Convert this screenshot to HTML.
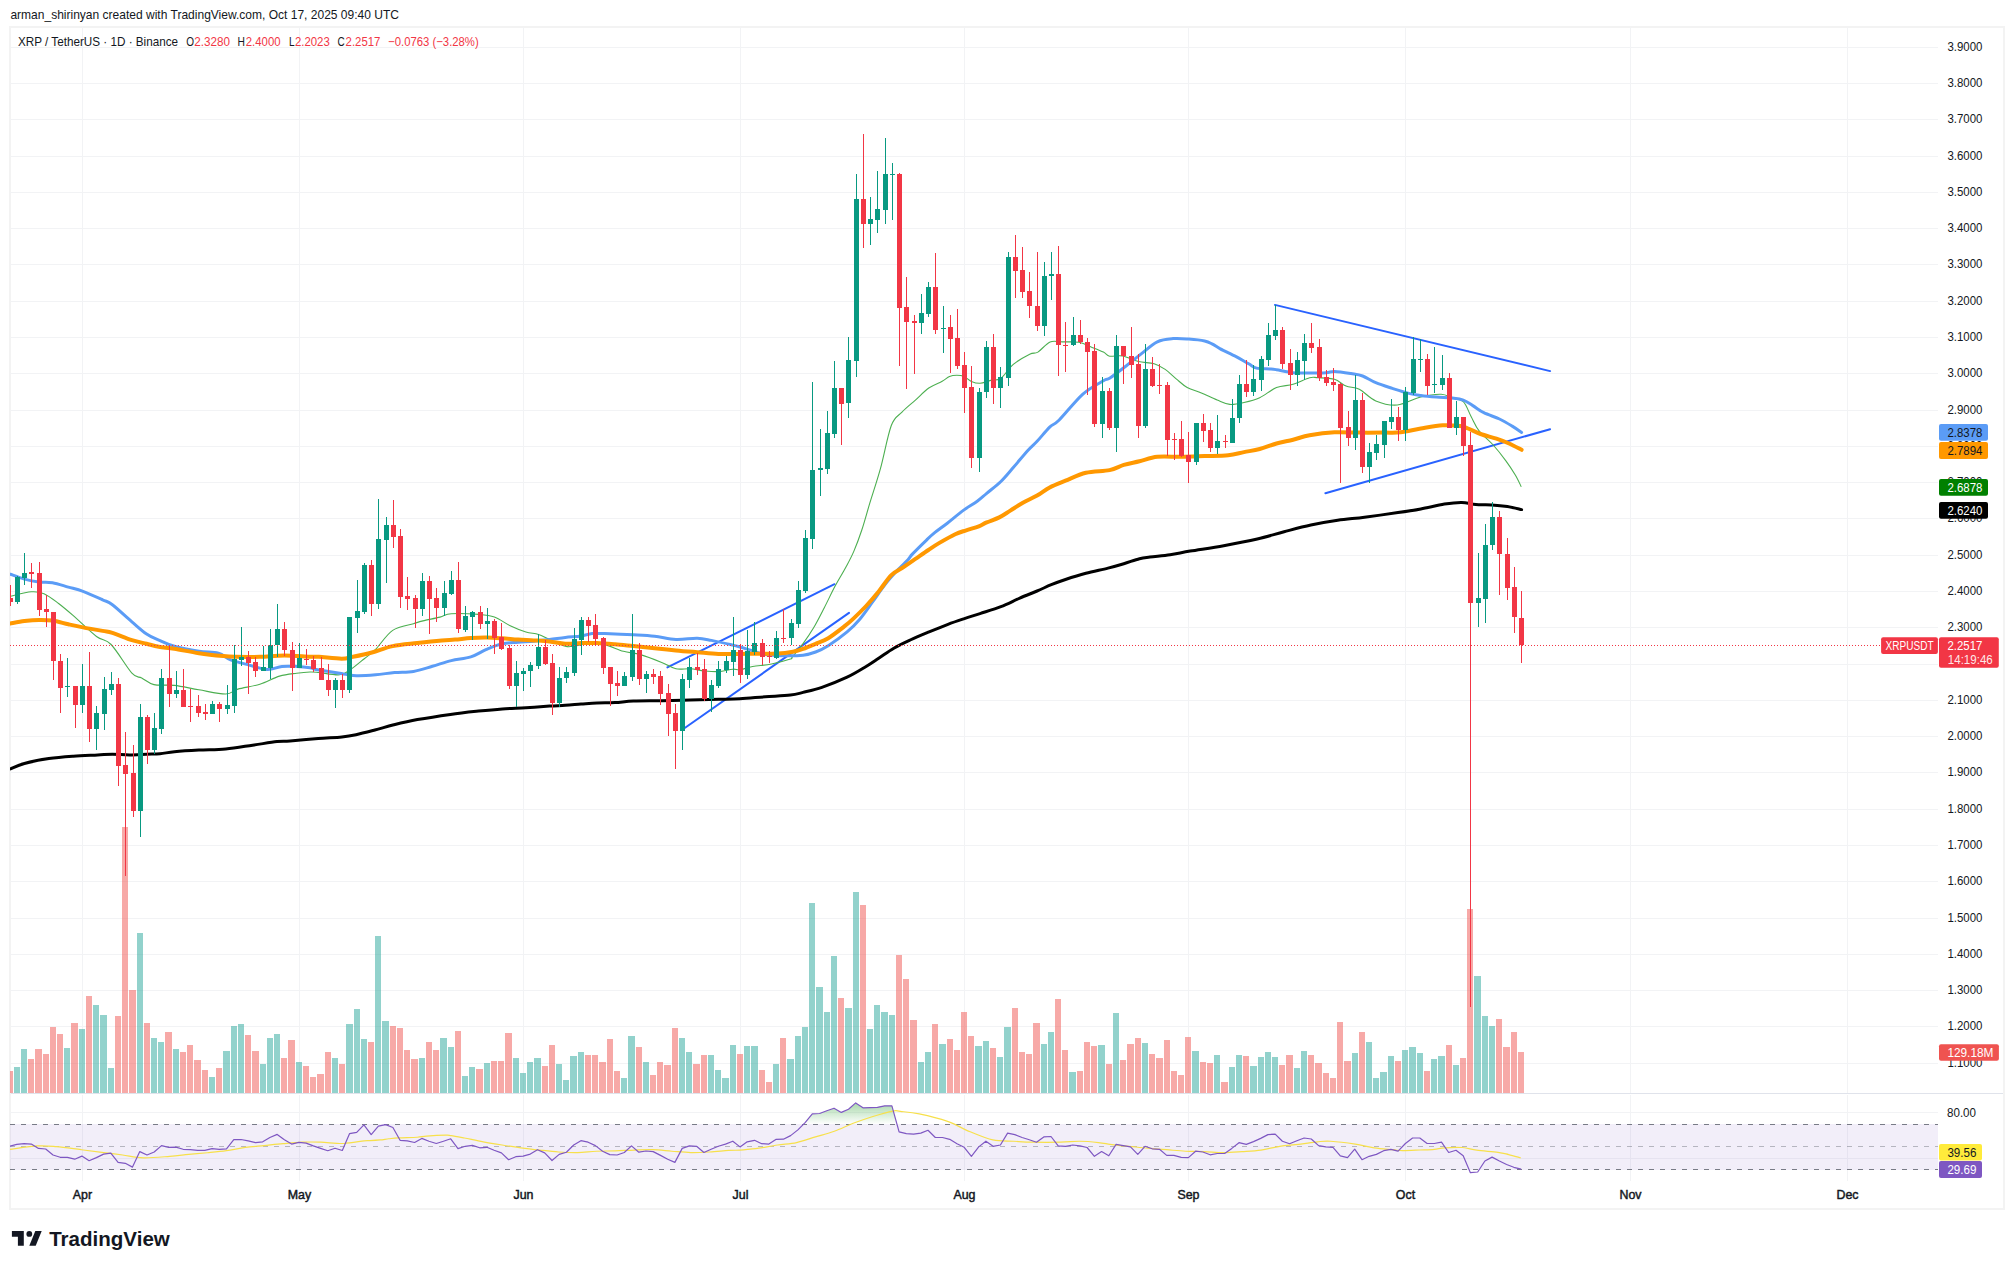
<!DOCTYPE html><html><head><meta charset="utf-8"><title>XRP / TetherUS chart</title><style>html,body{margin:0;padding:0;background:#fff;overflow:hidden;}svg{display:block;}text{font-family:"Liberation Sans", Arial, sans-serif;}</style></head><body>
<svg width="2014" height="1269" viewBox="0 0 2014 1269">
<rect x="0" y="0" width="2014" height="1269" fill="#ffffff"/>
<text x="10.4" y="18.6" font-size="12.4" fill="#131722" textLength="388.6" lengthAdjust="spacingAndGlyphs">arman_shirinyan created with TradingView.com, Oct 17, 2025 09:40 UTC</text>
<rect x="10" y="27" width="1994" height="1182" fill="none" stroke="#F3F3F3" stroke-width="2"/>
<defs><clipPath id="cp"><rect x="10" y="28" width="1928" height="1065"/></clipPath><clipPath id="cr"><rect x="10" y="1094" width="1928" height="87"/></clipPath></defs>
<path d="M10 47.5H1938M10 83.5H1938M10 119.5H1938M10 156.5H1938M10 192.5H1938M10 228.5H1938M10 264.5H1938M10 301.5H1938M10 337.5H1938M10 373.5H1938M10 410.5H1938M10 446.5H1938M10 482.5H1938M10 518.5H1938M10 555.5H1938M10 591.5H1938M10 627.5H1938M10 664.5H1938M10 700.5H1938M10 736.5H1938M10 772.5H1938M10 809.5H1938M10 845.5H1938M10 881.5H1938M10 918.5H1938M10 954.5H1938M10 990.5H1938M10 1026.5H1938M10 1063.5H1938M10 1112.5H1938M10 1158.5H1938M82.5 27V1093M82.5 1095V1181M299.5 27V1093M299.5 1095V1181M523.5 27V1093M523.5 1095V1181M740.5 27V1093M740.5 1095V1181M964.5 27V1093M964.5 1095V1181M1188.5 27V1093M1188.5 1095V1181M1405.5 27V1093M1405.5 1095V1181M1630.5 27V1093M1630.5 1095V1181M1847.5 27V1093M1847.5 1095V1181" stroke="#F2F3F5" stroke-width="1" fill="none"/>
<rect x="11" y="1093" width="1992" height="1" fill="#E0E3EB"/>
<g clip-path="url(#cp)">
<path d="M14 1067H20V1093H14ZM21 1049H27V1093H21ZM64 1048H70V1093H64ZM79 1029H85V1093H79ZM93 1005H99V1093H93ZM100 1015H107V1093H100ZM108 1068H114V1093H108ZM137 933H143V1093H137ZM151 1038H157V1093H151ZM158 1042H164V1093H158ZM173 1049H179V1093H173ZM209 1077H215V1093H209ZM223 1051H230V1093H223ZM231 1026H237V1093H231ZM238 1024H244V1093H238ZM260 1064H266V1093H260ZM267 1038H273V1093H267ZM274 1034H280V1093H274ZM296 1062H302V1093H296ZM332 1058H338V1093H332ZM346 1024H353V1093H346ZM354 1009H360V1093H354ZM361 1039H367V1093H361ZM375 936H381V1093H375ZM382 1021H389V1093H382ZM419 1058H425V1093H419ZM440 1038H447V1093H440ZM448 1047H454V1093H448ZM462 1076H468V1093H462ZM469 1067H475V1093H469ZM484 1063H490V1093H484ZM513 1058H519V1093H513ZM520 1073H526V1093H520ZM527 1062H533V1093H527ZM534 1058H541V1093H534ZM556 1064H562V1093H556ZM563 1080H569V1093H563ZM570 1056H577V1093H570ZM578 1052H584V1093H578ZM621 1078H627V1093H621ZM628 1036H635V1093H628ZM643 1062H649V1093H643ZM679 1038H685V1093H679ZM686 1052H692V1093H686ZM708 1055H714V1093H708ZM715 1070H721V1093H715ZM722 1078H729V1093H722ZM730 1045H736V1093H730ZM744 1046H750V1093H744ZM751 1046H758V1093H751ZM773 1064H779V1093H773ZM787 1059H794V1093H787ZM795 1036H801V1093H795ZM802 1027H808V1093H802ZM809 903H815V1093H809ZM816 987H823V1093H816ZM824 1012H830V1093H824ZM831 956H837V1093H831ZM845 1008H852V1093H845ZM853 892H859V1093H853ZM867 1029H873V1093H867ZM874 1005H880V1093H874ZM881 1012H888V1093H881ZM889 1015H895V1093H889ZM918 1062H924V1093H918ZM925 1052H931V1093H925ZM939 1044H946V1093H939ZM975 1046H982V1093H975ZM983 1041H989V1093H983ZM997 1057H1003V1093H997ZM1004 1027H1011V1093H1004ZM1041 1044H1047V1093H1041ZM1048 1032H1054V1093H1048ZM1069 1072H1076V1093H1069ZM1098 1045H1105V1093H1098ZM1113 1013H1119V1093H1113ZM1142 1043H1148V1093H1142ZM1192 1051H1199V1093H1192ZM1214 1055H1220V1093H1214ZM1229 1067H1235V1093H1229ZM1236 1055H1242V1093H1236ZM1250 1066H1257V1093H1250ZM1258 1057H1264V1093H1258ZM1265 1052H1271V1093H1265ZM1272 1057H1278V1093H1272ZM1294 1068H1300V1093H1294ZM1301 1051H1307V1093H1301ZM1352 1053H1358V1093H1352ZM1366 1042H1372V1093H1366ZM1373 1078H1379V1093H1373ZM1380 1072H1387V1093H1380ZM1388 1056H1394V1093H1388ZM1402 1050H1408V1093H1402ZM1409 1047H1416V1093H1409ZM1417 1053H1423V1093H1417ZM1431 1059H1437V1093H1431ZM1438 1056H1445V1093H1438ZM1453 1065H1459V1093H1453ZM1474 976H1481V1093H1474ZM1482 1016H1488V1093H1482ZM1489 1026H1495V1093H1489Z" fill="#26A69A" fill-opacity="0.5"/>
<path d="M6 1071H13V1093H6ZM28 1059H34V1093H28ZM35 1049H42V1093H35ZM43 1054H49V1093H43ZM50 1027H56V1093H50ZM57 1034H63V1093H57ZM71 1023H78V1093H71ZM86 996H92V1093H86ZM115 1016H121V1093H115ZM122 827H128V1093H122ZM129 990H136V1093H129ZM144 1023H150V1093H144ZM165 1032H172V1093H165ZM180 1052H186V1093H180ZM187 1045H193V1093H187ZM194 1060H201V1093H194ZM202 1070H208V1093H202ZM216 1068H222V1093H216ZM245 1035H251V1093H245ZM252 1051H259V1093H252ZM281 1058H287V1093H281ZM288 1040H295V1093H288ZM303 1066H309V1093H303ZM310 1077H316V1093H310ZM317 1074H324V1093H317ZM325 1052H331V1093H325ZM339 1064H345V1093H339ZM368 1042H374V1093H368ZM390 1026H396V1093H390ZM397 1028H403V1093H397ZM404 1050H410V1093H404ZM411 1059H418V1093H411ZM426 1042H432V1093H426ZM433 1050H439V1093H433ZM455 1031H461V1093H455ZM476 1069H483V1093H476ZM491 1061H497V1093H491ZM498 1061H504V1093H498ZM505 1033H512V1093H505ZM542 1066H548V1093H542ZM549 1045H555V1093H549ZM585 1055H591V1093H585ZM592 1055H598V1093H592ZM599 1062H606V1093H599ZM607 1039H613V1093H607ZM614 1071H620V1093H614ZM636 1047H642V1093H636ZM650 1075H656V1093H650ZM657 1062H663V1093H657ZM664 1065H671V1093H664ZM672 1028H678V1093H672ZM693 1064H700V1093H693ZM701 1055H707V1093H701ZM737 1054H743V1093H737ZM759 1070H765V1093H759ZM766 1082H772V1093H766ZM780 1038H786V1093H780ZM838 998H844V1093H838ZM860 905H866V1093H860ZM896 955H902V1093H896ZM903 979H909V1093H903ZM910 1020H917V1093H910ZM932 1024H938V1093H932ZM947 1039H953V1093H947ZM954 1050H960V1093H954ZM961 1012H967V1093H961ZM968 1036H974V1093H968ZM990 1048H996V1093H990ZM1012 1008H1018V1093H1012ZM1019 1052H1025V1093H1019ZM1026 1054H1032V1093H1026ZM1033 1023H1040V1093H1033ZM1055 999H1061V1093H1055ZM1062 1050H1068V1093H1062ZM1077 1071H1083V1093H1077ZM1084 1042H1090V1093H1084ZM1091 1046H1097V1093H1091ZM1106 1064H1112V1093H1106ZM1120 1060H1126V1093H1120ZM1127 1044H1134V1093H1127ZM1135 1038H1141V1093H1135ZM1149 1054H1155V1093H1149ZM1156 1058H1163V1093H1156ZM1164 1040H1170V1093H1164ZM1171 1071H1177V1093H1171ZM1178 1075H1184V1093H1178ZM1185 1037H1191V1093H1185ZM1200 1062H1206V1093H1200ZM1207 1063H1213V1093H1207ZM1221 1082H1228V1093H1221ZM1243 1056H1249V1093H1243ZM1279 1065H1285V1093H1279ZM1286 1055H1293V1093H1286ZM1308 1055H1314V1093H1308ZM1315 1063H1322V1093H1315ZM1323 1073H1329V1093H1323ZM1330 1078H1336V1093H1330ZM1337 1022H1343V1093H1337ZM1344 1061H1351V1093H1344ZM1359 1032H1365V1093H1359ZM1395 1061H1401V1093H1395ZM1424 1071H1430V1093H1424ZM1446 1045H1452V1093H1446ZM1460 1058H1466V1093H1460ZM1467 909H1473V1093H1467ZM1496 1019H1502V1093H1496ZM1503 1047H1510V1093H1503ZM1511 1032H1517V1093H1511ZM1518 1052H1524V1093H1518Z" fill="#EF5350" fill-opacity="0.5"/>
</g>
<g clip-path="url(#cr)">
<rect x="10" y="1124" width="1928" height="46" fill="#7E57C2" fill-opacity="0.1"/>
<path d="M10 1124.5H1938M10 1169.5H1938" stroke="#787B86" stroke-width="1" stroke-dasharray="5 6"/>
<path d="M10 1146.5H1938" stroke="#787B86" stroke-opacity="0.5" stroke-width="1" stroke-dasharray="5 6"/>
<defs><linearGradient id="ob" x1="0" y1="1100" x2="0" y2="1124.3" gradientUnits="userSpaceOnUse"><stop offset="0" stop-color="#4CAF50" stop-opacity="0.55"/><stop offset="1" stop-color="#4CAF50" stop-opacity="0"/></linearGradient></defs>
<path d="M803.5 1124.3 L805.1 1122.7 L812.3 1113.9 L819.6 1113.5 L826.8 1110.7 L834.0 1108.2 L841.3 1112.4 L848.5 1109.2 L855.7 1102.9 L863.0 1107.8 L870.2 1107.6 L877.4 1107.3 L884.7 1105.8 L891.9 1105.8 L897.0 1124.3 Z" fill="url(#ob)"/>
<path d="M10.00 1149.34 C14.62 1148.77 29.97 1146.38 37.74 1145.94 C45.50 1145.50 49.37 1146.07 56.60 1146.70 C63.84 1147.33 73.27 1148.74 81.13 1149.72 C88.99 1150.69 96.86 1151.67 103.77 1152.55 C110.69 1153.43 116.04 1154.12 122.64 1155.00 C129.25 1155.88 135.53 1157.61 143.40 1157.83 C151.26 1158.05 162.26 1156.89 169.81 1156.32 C177.36 1155.75 182.39 1155.03 188.68 1154.43 C194.97 1153.84 201.26 1153.36 207.55 1152.74 C213.84 1152.11 220.13 1151.54 226.42 1150.66 C232.70 1149.78 238.99 1148.30 245.28 1147.45 C251.57 1146.60 257.86 1146.19 264.15 1145.57 C270.44 1144.94 276.73 1144.25 283.02 1143.68 C289.31 1143.11 295.60 1142.42 301.89 1142.17 C308.18 1141.92 313.84 1141.95 320.75 1142.17 C327.67 1142.39 336.16 1143.71 343.40 1143.49 C350.63 1143.27 359.72 1141.32 364.15 1140.85 C368.58 1140.38 367.36 1140.82 370.00 1140.66 C372.64 1140.50 376.86 1140.22 380.00 1139.91 C383.14 1139.59 385.82 1139.12 388.87 1138.77 C391.92 1138.43 393.58 1138.08 398.30 1137.83 C403.02 1137.58 412.45 1137.55 417.17 1137.26 C421.89 1136.98 421.89 1136.48 426.60 1136.13 C431.32 1135.79 441.38 1135.28 445.47 1135.19 C449.56 1135.09 447.99 1135.09 451.13 1135.57 C454.28 1136.04 458.99 1136.98 464.34 1138.02 C469.69 1139.06 476.92 1140.63 483.21 1141.79 C489.50 1142.96 495.79 1143.99 502.08 1145.00 C508.36 1146.01 514.65 1146.98 520.94 1147.83 C527.23 1148.68 533.52 1149.40 539.81 1150.09 C546.10 1150.79 552.39 1151.57 558.68 1151.98 C564.97 1152.39 571.26 1152.67 577.55 1152.55 C583.84 1152.42 590.13 1151.51 596.42 1151.23 C602.70 1150.94 608.99 1151.04 615.28 1150.85 C621.57 1150.66 627.86 1150.28 634.15 1150.09 C640.44 1149.91 646.73 1149.53 653.02 1149.72 C659.31 1149.91 665.60 1150.75 671.89 1151.23 C678.18 1151.70 684.47 1152.42 690.75 1152.55 C697.04 1152.67 703.33 1152.33 709.62 1151.98 C715.91 1151.64 723.43 1150.79 728.49 1150.47 C733.55 1150.16 736.42 1150.31 740.00 1150.09 C743.58 1149.87 746.86 1149.47 750.00 1149.15 C753.14 1148.84 754.25 1148.90 758.87 1148.21 C763.49 1147.52 771.45 1145.94 777.74 1145.00 C784.03 1144.06 790.31 1143.90 796.60 1142.55 C802.89 1141.19 809.18 1138.77 815.47 1136.89 C821.76 1135.00 828.05 1133.49 834.34 1131.23 C840.63 1128.96 846.92 1125.72 853.21 1123.30 C859.50 1120.88 865.47 1118.74 872.08 1116.70 C878.68 1114.65 888.11 1111.92 892.83 1111.04 C897.55 1110.16 895.97 1110.94 900.38 1111.42 C904.78 1111.89 911.38 1112.20 919.25 1113.87 C927.11 1115.53 939.06 1118.43 947.55 1121.42 C956.04 1124.40 962.64 1128.71 970.19 1131.79 C977.74 1134.87 985.60 1138.33 992.83 1139.91 C1000.06 1141.48 1006.98 1140.85 1013.58 1141.23 C1020.19 1141.60 1024.59 1142.01 1032.45 1142.17 C1040.31 1142.33 1052.89 1142.33 1060.75 1142.17 C1068.62 1142.01 1073.33 1141.16 1079.62 1141.23 C1085.91 1141.29 1093.43 1142.01 1098.49 1142.55 C1103.55 1143.08 1106.42 1143.93 1110.00 1144.43 C1113.58 1144.94 1116.86 1145.25 1120.00 1145.57 C1123.14 1145.88 1124.25 1145.88 1128.87 1146.32 C1133.49 1146.76 1141.45 1147.64 1147.74 1148.21 C1154.03 1148.77 1160.31 1149.21 1166.60 1149.72 C1172.89 1150.22 1179.18 1150.91 1185.47 1151.23 C1191.76 1151.54 1198.05 1151.38 1204.34 1151.60 C1210.63 1151.82 1216.92 1152.55 1223.21 1152.55 C1229.50 1152.55 1235.79 1152.01 1242.08 1151.60 C1248.36 1151.19 1254.65 1150.97 1260.94 1150.09 C1267.23 1149.21 1273.52 1147.26 1279.81 1146.32 C1286.10 1145.38 1292.39 1145.19 1298.68 1144.43 C1304.97 1143.68 1312.20 1142.33 1317.55 1141.79 C1322.89 1141.26 1324.47 1140.85 1330.75 1141.23 C1337.04 1141.60 1348.05 1142.96 1355.28 1144.06 C1362.52 1145.16 1367.86 1146.89 1374.15 1147.83 C1380.44 1148.77 1388.30 1149.25 1393.02 1149.72 C1397.74 1150.19 1397.96 1150.61 1402.45 1150.66 C1406.95 1150.71 1414.71 1150.23 1420.00 1150.00 C1425.29 1149.77 1430.07 1149.67 1434.20 1149.30 C1438.33 1148.93 1440.07 1148.10 1444.80 1147.80 C1449.53 1147.50 1457.28 1147.10 1462.60 1147.50 C1467.92 1147.90 1470.80 1149.40 1476.70 1150.20 C1482.60 1151.00 1492.67 1151.57 1498.00 1152.30 C1503.33 1153.03 1504.92 1153.68 1508.70 1154.60 C1512.48 1155.52 1518.70 1157.27 1520.70 1157.80" fill="none" stroke="#F7E04B" stroke-width="1.2"/>
<path d="M9.6 1146.3 L16.8 1144.4 L24.0 1143.7 L31.3 1144.1 L38.5 1148.4 L45.7 1149.0 L53.0 1155.0 L60.2 1157.3 L67.4 1157.3 L74.7 1159.2 L81.9 1156.1 L89.1 1160.7 L96.4 1157.6 L103.6 1154.1 L110.8 1153.1 L118.1 1162.4 L125.3 1163.3 L132.5 1167.1 L139.8 1151.6 L147.0 1155.0 L154.2 1152.0 L161.5 1145.6 L168.7 1147.3 L175.9 1147.1 L183.1 1149.3 L190.4 1149.7 L197.6 1150.3 L204.8 1150.3 L212.1 1148.6 L219.3 1149.3 L226.5 1148.8 L233.8 1139.7 L241.0 1139.5 L248.2 1140.8 L255.5 1142.7 L262.7 1141.8 L269.9 1137.5 L277.2 1134.4 L284.4 1139.7 L291.6 1144.1 L298.9 1142.4 L306.1 1143.1 L313.3 1145.9 L320.6 1148.4 L327.8 1150.7 L335.0 1148.2 L342.3 1150.5 L349.5 1133.7 L356.7 1132.4 L363.9 1124.8 L371.2 1134.6 L378.4 1126.1 L385.6 1124.6 L392.9 1127.5 L400.1 1140.3 L407.3 1140.8 L414.6 1142.5 L421.8 1138.4 L429.0 1141.2 L436.3 1143.5 L443.5 1141.2 L450.7 1138.8 L458.0 1148.6 L465.2 1146.3 L472.4 1145.4 L479.7 1147.8 L486.9 1147.3 L494.1 1150.3 L501.4 1152.9 L508.6 1159.7 L515.8 1156.7 L523.1 1156.1 L530.3 1154.1 L537.5 1149.7 L544.7 1152.9 L552.0 1160.5 L559.2 1154.4 L566.4 1152.2 L573.7 1145.0 L580.9 1140.7 L588.1 1142.2 L595.4 1145.6 L602.6 1151.2 L609.8 1154.6 L617.1 1155.0 L624.3 1152.5 L631.5 1145.9 L638.8 1152.2 L646.0 1151.0 L653.2 1151.6 L660.5 1155.4 L667.7 1159.2 L674.9 1162.4 L682.2 1148.4 L689.4 1145.9 L696.6 1146.3 L703.9 1152.5 L711.1 1149.3 L718.3 1146.3 L725.5 1144.1 L732.8 1141.2 L740.0 1146.9 L747.2 1141.8 L754.5 1140.3 L761.7 1143.7 L768.9 1144.1 L776.2 1139.3 L783.4 1139.2 L790.6 1135.6 L797.9 1129.9 L805.1 1122.7 L812.3 1113.9 L819.6 1113.5 L826.8 1110.7 L834.0 1108.2 L841.3 1112.4 L848.5 1109.2 L855.7 1102.9 L863.0 1107.8 L870.2 1107.6 L877.4 1107.3 L884.7 1105.8 L891.9 1105.8 L899.1 1131.8 L906.3 1133.7 L913.6 1134.1 L920.8 1133.1 L928.0 1130.3 L935.3 1137.5 L942.5 1137.5 L949.7 1139.3 L957.0 1143.7 L964.2 1147.3 L971.4 1156.3 L978.7 1146.9 L985.9 1141.2 L993.1 1146.3 L1000.4 1145.0 L1007.6 1133.1 L1014.8 1134.6 L1022.1 1137.5 L1029.3 1139.7 L1036.5 1142.2 L1043.8 1136.9 L1051.0 1136.5 L1058.2 1145.9 L1065.5 1146.3 L1072.7 1145.0 L1079.9 1145.9 L1087.1 1147.5 L1094.4 1156.3 L1101.6 1151.6 L1108.8 1155.8 L1116.1 1144.4 L1123.3 1145.6 L1130.5 1146.9 L1137.8 1154.4 L1145.0 1146.3 L1152.2 1148.8 L1159.5 1149.3 L1166.7 1155.4 L1173.9 1155.4 L1181.2 1157.3 L1188.4 1157.6 L1195.6 1151.2 L1202.9 1152.0 L1210.1 1154.8 L1217.3 1153.5 L1224.6 1153.5 L1231.8 1148.4 L1239.0 1142.7 L1246.3 1144.4 L1253.5 1141.6 L1260.7 1138.4 L1267.9 1134.6 L1275.2 1134.1 L1282.4 1141.2 L1289.6 1143.7 L1296.9 1140.8 L1304.1 1138.0 L1311.3 1139.0 L1318.6 1145.6 L1325.8 1146.9 L1333.0 1147.3 L1340.3 1155.9 L1347.5 1157.6 L1354.7 1149.2 L1362.0 1159.7 L1369.2 1156.3 L1376.4 1154.4 L1383.7 1150.7 L1390.9 1149.3 L1398.1 1151.2 L1405.4 1143.5 L1412.6 1138.0 L1419.8 1138.0 L1427.1 1143.5 L1434.3 1143.5 L1441.5 1142.2 L1448.7 1152.5 L1456.0 1150.3 L1463.2 1155.8 L1470.4 1172.7 L1477.7 1172.0 L1484.9 1161.0 L1492.1 1157.1 L1499.4 1161.0 L1506.6 1164.5 L1513.8 1167.3 L1521.1 1169.1" fill="none" stroke="#7E57C2" stroke-width="1.2" stroke-linejoin="round"/>
</g>
<g clip-path="url(#cp)">
<line x1="667.4" y1="667.4" x2="834.5" y2="584.2" stroke="#2962FF" stroke-width="2" stroke-linecap="round"/>
<line x1="685.1" y1="727.7" x2="849.0" y2="612.9" stroke="#2962FF" stroke-width="2" stroke-linecap="round"/>
<line x1="1274.9" y1="304.9" x2="1550.1" y2="371.1" stroke="#2962FF" stroke-width="2" stroke-linecap="round"/>
<line x1="1325.4" y1="493.2" x2="1550.1" y2="429.2" stroke="#2962FF" stroke-width="2" stroke-linecap="round"/>
<path d="M10.30 768.90 C12.65 768.00 17.97 765.22 24.40 763.50 C30.83 761.78 40.75 759.82 48.90 758.60 C57.05 757.38 65.17 756.80 73.30 756.20 C81.43 755.60 91.18 755.33 97.70 755.00 C104.22 754.67 107.10 754.20 112.40 754.20 C117.70 754.20 123.80 755.00 129.50 755.00 C135.20 755.00 141.52 754.42 146.60 754.20 C151.68 753.98 155.37 754.10 160.00 753.70 C164.63 753.30 167.92 752.40 174.40 751.80 C180.88 751.20 190.35 750.58 198.90 750.10 C207.45 749.62 216.75 749.72 225.70 748.90 C234.65 748.08 244.05 746.42 252.60 745.20 C261.15 743.98 270.77 742.30 277.00 741.60 C283.23 740.90 283.12 741.52 290.00 741.00 C296.88 740.48 309.65 739.18 318.30 738.50 C326.95 737.82 335.62 737.53 341.90 736.90 C348.18 736.27 350.50 735.85 356.00 734.70 C361.50 733.55 368.60 731.65 374.90 730.00 C381.20 728.35 386.72 726.53 393.80 724.80 C400.88 723.07 407.97 721.33 417.40 719.60 C426.83 717.87 440.20 715.82 450.40 714.40 C460.60 712.98 469.95 712.02 478.60 711.10 C487.25 710.18 494.42 709.47 502.30 708.90 C510.18 708.33 518.02 708.17 525.90 707.70 C533.78 707.23 543.03 706.50 549.60 706.10 C556.17 705.70 560.05 705.63 565.30 705.30 C570.55 704.97 575.83 704.48 581.10 704.10 C586.37 703.72 591.25 703.25 596.90 703.00 C602.55 702.75 608.92 702.93 615.00 702.60 C621.08 702.27 625.62 701.32 633.40 701.00 C641.18 700.68 652.25 700.87 661.70 700.70 C671.15 700.53 680.63 700.23 690.10 700.00 C699.57 699.77 710.18 699.52 718.50 699.30 C726.82 699.08 732.22 699.12 740.00 698.70 C747.78 698.28 756.80 697.40 765.20 696.80 C773.60 696.20 784.10 695.83 790.40 695.10 C796.70 694.37 797.75 693.70 803.00 692.40 C808.25 691.10 814.55 689.83 821.90 687.30 C829.25 684.77 839.73 680.67 847.10 677.20 C854.47 673.73 860.83 669.65 866.10 666.50 C871.37 663.35 874.08 661.35 878.70 658.30 C883.32 655.25 888.55 651.25 893.80 648.20 C899.05 645.15 904.32 642.72 910.20 640.00 C916.08 637.28 922.80 634.52 929.10 631.90 C935.40 629.28 942.12 626.52 948.00 624.30 C953.88 622.08 959.07 620.38 964.40 618.60 C969.73 616.82 973.92 615.58 980.00 613.60 C986.08 611.62 994.27 609.28 1000.90 606.70 C1007.53 604.12 1013.77 600.72 1019.80 598.10 C1025.83 595.48 1031.85 593.23 1037.10 591.00 C1042.35 588.77 1046.57 586.62 1051.30 584.70 C1056.03 582.78 1059.73 581.40 1065.50 579.50 C1071.27 577.60 1078.82 575.20 1085.90 573.30 C1092.98 571.40 1101.68 569.70 1108.00 568.10 C1114.32 566.50 1118.55 565.27 1123.80 563.70 C1129.05 562.13 1135.13 559.82 1139.50 558.70 C1143.87 557.58 1144.90 557.67 1150.00 557.00 C1155.10 556.33 1163.40 555.68 1170.10 554.70 C1176.80 553.72 1181.27 552.60 1190.20 551.10 C1199.13 549.60 1212.52 547.72 1223.70 545.70 C1234.88 543.68 1247.23 541.33 1257.30 539.00 C1267.37 536.67 1275.17 534.03 1284.10 531.70 C1293.03 529.37 1301.97 526.90 1310.90 525.00 C1319.83 523.10 1328.77 521.60 1337.70 520.30 C1346.63 519.00 1354.45 518.48 1364.50 517.20 C1374.55 515.92 1388.62 513.98 1398.00 512.60 C1407.38 511.22 1413.07 510.32 1420.80 508.90 C1428.53 507.48 1437.58 505.17 1444.40 504.10 C1451.22 503.03 1456.45 502.42 1461.70 502.50 C1466.95 502.58 1470.90 504.20 1475.90 504.60 C1480.90 505.00 1486.45 504.58 1491.70 504.90 C1496.95 505.22 1502.42 505.72 1507.40 506.50 C1512.38 507.28 1519.23 509.08 1521.60 509.60" fill="none" stroke="#000000" stroke-width="3" stroke-linejoin="round" stroke-linecap="round"/>
<path d="M10.30 596.20 C13.80 595.47 25.68 592.22 31.30 591.80 C36.92 591.38 39.45 591.75 44.00 593.70 C48.55 595.65 53.72 599.83 58.60 603.50 C63.48 607.17 66.98 610.20 73.30 615.70 C79.62 621.20 90.20 631.70 96.50 636.50 C102.80 641.30 105.20 638.40 111.10 644.50 C117.00 650.60 126.80 667.52 131.90 673.10 C137.00 678.68 138.03 676.08 141.70 678.00 C145.37 679.92 148.45 683.37 153.90 684.60 C159.35 685.83 166.90 684.53 174.40 685.40 C181.90 686.27 190.35 688.37 198.90 689.80 C207.45 691.23 219.20 694.12 225.70 694.00 C232.20 693.88 232.20 690.73 237.90 689.10 C243.60 687.47 252.97 686.37 259.90 684.20 C266.83 682.03 273.38 677.93 279.50 676.10 C285.62 674.27 291.52 673.88 296.60 673.20 C301.68 672.52 306.28 672.12 310.00 672.00 C313.72 671.88 313.95 672.03 318.90 672.50 C323.85 672.97 334.33 675.37 339.70 674.80 C345.07 674.23 347.00 671.78 351.10 669.10 C355.20 666.42 360.22 662.00 364.30 658.70 C368.38 655.40 370.87 654.02 375.60 649.30 C380.33 644.58 386.38 634.67 392.70 630.40 C399.02 626.13 408.47 625.28 413.50 623.70 C418.53 622.12 418.48 622.00 422.90 620.90 C427.32 619.80 435.27 618.30 440.00 617.10 C444.73 615.90 444.87 614.15 451.30 613.70 C457.73 613.25 471.42 613.85 478.60 614.40 C485.78 614.95 489.13 615.12 494.40 617.00 C499.67 618.88 504.95 623.20 510.20 625.70 C515.45 628.20 521.18 630.55 525.90 632.00 C530.62 633.45 534.55 633.13 538.50 634.40 C542.45 635.67 545.13 637.63 549.60 639.60 C554.07 641.57 561.37 645.10 565.30 646.20 C569.23 647.30 569.25 646.60 573.20 646.20 C577.15 645.80 583.75 644.07 589.00 643.80 C594.25 643.53 598.97 643.35 604.70 644.60 C610.43 645.85 617.43 649.63 623.40 651.30 C629.37 652.97 634.12 652.75 640.50 654.60 C646.88 656.45 655.80 660.03 661.70 662.40 C667.60 664.77 671.17 667.73 675.90 668.80 C680.63 669.87 685.37 668.45 690.10 668.80 C694.83 669.15 699.57 670.43 704.30 670.90 C709.03 671.37 713.77 671.88 718.50 671.60 C723.23 671.32 729.12 669.52 732.70 669.20 C736.28 668.88 736.68 670.15 740.00 669.70 C743.32 669.25 747.35 667.45 752.60 666.50 C757.85 665.55 765.20 665.25 771.50 664.00 C777.80 662.75 786.97 660.12 790.40 659.00 C793.83 657.88 790.02 659.82 792.10 657.30 C794.18 654.78 799.32 648.82 802.90 643.90 C806.48 638.98 810.03 633.83 813.60 627.80 C817.17 621.77 820.73 614.62 824.30 607.70 C827.87 600.78 831.43 593.00 835.00 586.30 C838.57 579.60 842.57 573.32 845.70 567.50 C848.83 561.68 851.12 557.65 853.80 551.40 C856.48 545.15 859.13 538.03 861.80 530.00 C864.47 521.97 866.68 513.47 869.80 503.20 C872.92 492.93 876.92 481.35 880.50 468.40 C884.08 455.45 887.72 434.88 891.30 425.50 C894.88 416.12 897.98 416.33 902.00 412.10 C906.02 407.87 910.93 404.12 915.40 400.10 C919.87 396.08 924.33 391.13 928.80 388.00 C933.27 384.87 938.75 383.22 942.20 381.30 C945.65 379.38 947.07 377.50 949.50 376.50 C951.93 375.50 954.37 375.30 956.80 375.30 C959.23 375.30 961.67 375.48 964.10 376.50 C966.53 377.52 968.75 380.27 971.40 381.40 C974.05 382.53 976.78 383.47 980.00 383.30 C983.22 383.13 987.20 381.25 990.70 380.40 C994.20 379.55 997.23 380.87 1001.00 378.20 C1004.77 375.53 1008.52 368.40 1013.30 364.40 C1018.08 360.40 1025.60 356.25 1029.70 354.20 C1033.80 352.15 1034.50 354.15 1037.90 352.10 C1041.30 350.05 1046.02 343.60 1050.10 341.90 C1054.18 340.20 1057.62 341.83 1062.40 341.90 C1067.18 341.97 1074.02 341.45 1078.80 342.30 C1083.58 343.15 1087.00 345.37 1091.10 347.00 C1095.20 348.63 1100.32 350.57 1103.40 352.10 C1106.48 353.63 1106.40 355.55 1109.60 356.20 C1112.80 356.85 1117.80 355.12 1122.60 356.00 C1127.40 356.88 1133.15 360.20 1138.40 361.50 C1143.65 362.80 1149.63 362.48 1154.10 363.80 C1158.57 365.12 1161.52 366.90 1165.20 369.40 C1168.88 371.90 1172.53 375.78 1176.20 378.80 C1179.87 381.82 1183.00 385.13 1187.20 387.50 C1191.40 389.87 1196.40 390.90 1201.40 393.00 C1206.40 395.10 1212.47 398.20 1217.20 400.10 C1221.93 402.00 1225.33 404.00 1229.80 404.40 C1234.27 404.80 1239.02 403.62 1244.00 402.50 C1248.98 401.38 1254.28 400.18 1259.70 397.70 C1265.12 395.22 1270.93 389.83 1276.50 387.60 C1282.07 385.37 1287.58 385.95 1293.10 384.30 C1298.62 382.65 1305.47 378.80 1309.60 377.70 C1313.73 376.60 1313.75 377.43 1317.90 377.70 C1322.05 377.97 1329.82 377.92 1334.50 379.30 C1339.18 380.68 1341.87 384.33 1346.00 386.00 C1350.13 387.67 1354.33 386.82 1359.30 389.30 C1364.27 391.78 1369.47 398.28 1375.80 400.90 C1382.13 403.52 1389.80 405.65 1397.30 405.00 C1404.80 404.35 1413.48 398.78 1420.80 397.00 C1428.12 395.22 1435.95 394.12 1441.20 394.30 C1446.45 394.48 1448.62 396.87 1452.30 398.10 C1455.98 399.33 1460.15 398.60 1463.30 401.70 C1466.45 404.80 1468.57 411.83 1471.20 416.70 C1473.83 421.57 1475.43 426.18 1479.10 430.90 C1482.77 435.62 1488.73 440.02 1493.20 445.00 C1497.67 449.98 1502.22 455.80 1505.90 460.80 C1509.58 465.80 1512.73 470.67 1515.30 475.00 C1517.87 479.33 1520.30 484.83 1521.30 486.80" fill="none" stroke="#4CAF50" stroke-width="1.1" stroke-linejoin="round"/>
<path d="M10.30 574.20 C12.65 575.02 19.60 577.80 24.40 579.10 C29.20 580.40 34.42 581.40 39.10 582.00 C43.78 582.60 47.62 581.85 52.50 582.70 C57.38 583.55 63.32 585.67 68.40 587.10 C73.48 588.53 77.30 589.18 83.00 591.30 C88.70 593.42 97.70 597.57 102.60 599.80 C107.50 602.03 107.52 601.03 112.40 604.70 C117.28 608.37 126.20 616.92 131.90 621.80 C137.60 626.68 142.12 630.95 146.60 634.00 C151.08 637.05 154.17 638.05 158.80 640.10 C163.43 642.15 167.72 644.45 174.40 646.30 C181.08 648.15 191.57 650.05 198.90 651.20 C206.23 652.35 213.12 651.77 218.40 653.20 C223.68 654.63 225.72 657.90 230.60 659.80 C235.48 661.70 241.60 662.98 247.70 664.60 C253.80 666.22 261.50 669.20 267.20 669.50 C272.90 669.80 277.00 666.92 281.90 666.40 C286.80 665.88 291.92 666.17 296.60 666.40 C301.28 666.63 306.28 667.18 310.00 667.80 C313.72 668.42 313.32 669.08 318.90 670.10 C324.48 671.12 337.20 672.97 343.50 673.90 C349.80 674.83 351.35 675.55 356.70 675.70 C362.05 675.85 369.28 675.33 375.60 674.80 C381.92 674.27 388.28 673.07 394.60 672.50 C400.92 671.93 407.20 672.43 413.50 671.40 C419.80 670.37 426.10 668.10 432.40 666.30 C438.70 664.50 444.90 662.17 451.30 660.60 C457.70 659.03 464.93 658.77 470.80 656.90 C476.67 655.03 481.25 651.58 486.50 649.40 C491.75 647.22 497.03 644.98 502.30 643.80 C507.57 642.62 512.85 642.73 518.10 642.30 C523.35 641.87 528.55 641.65 533.80 641.20 C539.05 640.75 544.35 640.22 549.60 639.60 C554.85 638.98 560.05 638.10 565.30 637.50 C570.55 636.90 576.63 636.65 581.10 636.00 C585.57 635.35 588.17 634.00 592.10 633.60 C596.03 633.20 597.82 633.40 604.70 633.60 C611.58 633.80 625.08 634.37 633.40 634.80 C641.72 635.23 647.52 635.43 654.60 636.20 C661.68 636.97 668.80 639.05 675.90 639.40 C683.00 639.75 691.28 638.13 697.20 638.30 C703.12 638.47 705.48 639.27 711.40 640.40 C717.32 641.53 727.93 644.00 732.70 645.10 C737.47 646.20 736.68 646.05 740.00 647.00 C743.32 647.95 748.40 649.55 752.60 650.80 C756.80 652.05 759.95 653.67 765.20 654.50 C770.45 655.33 777.80 655.68 784.10 655.80 C790.40 655.92 797.75 655.83 803.00 655.20 C808.25 654.57 811.40 653.58 815.60 652.00 C819.80 650.42 822.95 649.05 828.20 645.70 C833.45 642.35 841.83 636.32 847.10 631.90 C852.37 627.48 855.58 624.15 859.80 619.20 C864.02 614.25 868.20 607.97 872.40 602.20 C876.60 596.43 880.80 589.95 885.00 584.60 C889.20 579.25 893.82 574.20 897.60 570.10 C901.38 566.00 905.20 562.70 907.70 560.00 C910.20 557.30 909.42 557.27 912.60 553.90 C915.78 550.53 923.12 543.33 926.80 539.80 C930.48 536.27 931.28 535.47 934.70 532.70 C938.12 529.93 942.58 526.88 947.30 523.20 C952.02 519.52 958.02 514.27 963.00 510.60 C967.98 506.93 973.25 504.08 977.20 501.20 C981.15 498.32 982.75 496.58 986.70 493.30 C990.65 490.02 996.43 485.83 1000.90 481.50 C1005.37 477.17 1009.05 472.43 1013.50 467.30 C1017.95 462.17 1023.67 455.03 1027.60 450.70 C1031.53 446.37 1033.42 445.23 1037.10 441.30 C1040.78 437.37 1046.02 430.65 1049.70 427.10 C1053.38 423.55 1053.67 425.50 1059.20 420.00 C1064.73 414.50 1075.53 400.63 1082.90 394.10 C1090.27 387.57 1098.88 383.48 1103.40 380.80 C1107.92 378.12 1106.27 380.43 1110.00 378.00 C1113.73 375.57 1120.55 370.27 1125.80 366.20 C1131.05 362.13 1136.25 357.67 1141.50 353.60 C1146.75 349.53 1152.03 344.30 1157.30 341.80 C1162.57 339.30 1167.85 339.05 1173.10 338.60 C1178.35 338.15 1183.55 338.70 1188.80 339.10 C1194.05 339.50 1200.65 340.17 1204.60 341.00 C1208.55 341.83 1209.88 342.78 1212.50 344.10 C1215.12 345.42 1216.37 346.80 1220.30 348.90 C1224.23 351.00 1231.37 354.22 1236.10 356.70 C1240.83 359.18 1245.28 361.90 1248.70 363.80 C1252.12 365.70 1253.05 367.25 1256.60 368.10 C1260.15 368.95 1266.68 368.63 1270.00 368.90 C1273.32 369.17 1272.65 369.07 1276.50 369.70 C1280.35 370.33 1287.58 372.13 1293.10 372.70 C1298.62 373.27 1304.08 373.10 1309.60 373.10 C1315.12 373.10 1322.05 372.98 1326.20 372.70 C1330.35 372.42 1330.37 371.25 1334.50 371.40 C1338.63 371.55 1346.32 372.83 1351.00 373.60 C1355.68 374.37 1358.47 374.48 1362.60 376.00 C1366.73 377.52 1370.83 380.63 1375.80 382.70 C1380.77 384.77 1386.88 386.62 1392.40 388.40 C1397.92 390.18 1404.17 392.23 1408.90 393.40 C1413.63 394.57 1416.20 394.80 1420.80 395.40 C1425.40 396.00 1431.25 396.55 1436.50 397.00 C1441.75 397.45 1447.83 397.58 1452.30 398.10 C1456.77 398.62 1459.88 398.85 1463.30 400.10 C1466.72 401.35 1469.38 403.50 1472.80 405.60 C1476.22 407.70 1479.35 410.47 1483.80 412.70 C1488.25 414.93 1494.77 416.77 1499.50 419.00 C1504.23 421.23 1508.52 423.87 1512.20 426.10 C1515.88 428.33 1520.03 431.35 1521.60 432.40" fill="none" stroke="#5B9CF6" stroke-width="3" stroke-linejoin="round" stroke-linecap="round"/>
<path d="M10.30 623.50 C12.65 623.10 19.60 621.70 24.40 621.10 C29.20 620.50 34.42 619.98 39.10 619.90 C43.78 619.82 47.62 619.87 52.50 620.60 C57.38 621.33 63.32 623.17 68.40 624.30 C73.48 625.43 77.30 626.30 83.00 627.40 C88.70 628.50 97.70 630.00 102.60 630.90 C107.50 631.80 107.52 631.27 112.40 632.80 C117.28 634.33 126.20 638.27 131.90 640.10 C137.60 641.93 142.12 642.70 146.60 643.80 C151.08 644.90 154.17 645.87 158.80 646.70 C163.43 647.53 167.72 647.72 174.40 648.80 C181.08 649.88 190.75 651.98 198.90 653.20 C207.05 654.42 217.20 655.50 223.30 656.10 C229.40 656.70 229.40 656.68 235.50 656.80 C241.60 656.92 251.77 657.00 259.90 656.80 C268.03 656.60 275.95 655.60 284.30 655.60 C292.65 655.60 304.23 656.60 310.00 656.80 C315.77 657.00 313.63 656.48 318.90 656.80 C324.17 657.12 335.92 658.70 341.60 658.70 C347.28 658.70 347.95 657.83 353.00 656.80 C358.05 655.77 365.28 654.28 371.90 652.50 C378.52 650.72 385.13 647.68 392.70 646.10 C400.27 644.52 409.12 643.95 417.30 643.00 C425.48 642.05 435.52 640.97 441.80 640.40 C448.08 639.83 450.17 640.00 455.00 639.60 C459.83 639.20 465.55 638.35 470.80 638.00 C476.05 637.65 481.25 637.45 486.50 637.50 C491.75 637.55 497.03 637.95 502.30 638.30 C507.57 638.65 512.85 639.25 518.10 639.60 C523.35 639.95 528.55 640.08 533.80 640.40 C539.05 640.72 544.35 640.93 549.60 641.50 C554.85 642.07 560.05 643.55 565.30 643.80 C570.55 644.05 575.83 643.13 581.10 643.00 C586.37 642.87 591.25 642.78 596.90 643.00 C602.55 643.22 608.92 643.78 615.00 644.30 C621.08 644.82 626.80 645.45 633.40 646.10 C640.00 646.75 647.52 647.48 654.60 648.20 C661.68 648.92 668.80 649.73 675.90 650.40 C683.00 651.07 690.10 651.62 697.20 652.20 C704.30 652.78 711.37 653.62 718.50 653.90 C725.63 654.18 730.12 653.97 740.00 653.90 C749.88 653.83 768.98 653.85 777.80 653.50 C786.62 653.15 788.70 652.57 792.90 651.80 C797.10 651.03 799.22 650.23 803.00 648.90 C806.78 647.57 811.40 645.58 815.60 643.80 C819.80 642.02 823.37 641.13 828.20 638.20 C833.03 635.27 840.40 629.47 844.60 626.20 C848.80 622.93 849.82 621.97 853.40 618.60 C856.98 615.23 861.88 610.52 866.10 606.00 C870.32 601.48 874.50 596.65 878.70 591.50 C882.90 586.35 887.10 579.20 891.30 575.10 C895.50 571.00 899.82 569.63 903.90 566.90 C907.98 564.17 911.72 561.52 915.80 558.70 C919.88 555.88 924.47 552.63 928.40 550.00 C932.33 547.37 934.93 545.53 939.40 542.90 C943.87 540.27 950.73 536.30 955.20 534.20 C959.67 532.10 962.27 531.60 966.20 530.30 C970.13 529.00 975.38 527.72 978.80 526.40 C982.22 525.08 983.28 523.90 986.70 522.40 C990.12 520.90 995.37 519.37 999.30 517.40 C1003.23 515.43 1006.37 513.05 1010.30 510.60 C1014.23 508.15 1018.43 505.20 1022.90 502.70 C1027.37 500.20 1032.63 498.15 1037.10 495.60 C1041.57 493.05 1044.97 489.88 1049.70 487.40 C1054.43 484.92 1059.47 483.13 1065.50 480.70 C1071.53 478.27 1078.55 474.57 1085.90 472.80 C1093.25 471.03 1103.28 471.42 1109.60 470.10 C1115.92 468.78 1118.82 466.37 1123.80 464.90 C1128.78 463.43 1133.92 462.65 1139.50 461.30 C1145.08 459.95 1150.40 457.55 1157.30 456.80 C1164.20 456.05 1173.02 456.92 1180.90 456.80 C1188.78 456.68 1196.72 456.35 1204.60 456.10 C1212.48 455.85 1221.63 455.97 1228.20 455.30 C1234.77 454.63 1238.75 453.15 1244.00 452.10 C1249.25 451.05 1254.28 450.43 1259.70 449.00 C1265.12 447.57 1270.93 445.05 1276.50 443.50 C1282.07 441.95 1287.58 441.07 1293.10 439.70 C1298.62 438.33 1302.70 436.53 1309.60 435.30 C1316.50 434.07 1326.22 432.75 1334.50 432.30 C1342.78 431.85 1351.03 432.55 1359.30 432.60 C1367.57 432.65 1377.22 432.65 1384.10 432.60 C1390.98 432.55 1394.48 432.98 1400.60 432.30 C1406.72 431.62 1413.77 429.67 1420.80 428.50 C1427.83 427.33 1436.23 425.70 1442.80 425.30 C1449.37 424.90 1456.00 425.57 1460.20 426.10 C1464.40 426.63 1464.60 427.18 1468.00 428.50 C1471.40 429.82 1475.87 432.30 1480.60 434.00 C1485.33 435.70 1491.67 437.12 1496.40 438.70 C1501.13 440.28 1504.80 441.65 1509.00 443.50 C1513.20 445.35 1519.50 448.75 1521.60 449.80" fill="none" stroke="#FF9800" stroke-width="4" stroke-linejoin="round" stroke-linecap="round"/>
<path d="M17 576H18V604H17ZM15 577H20V602H15ZM24 553H25V585H24ZM22 573H27V578H22ZM67 658H68V697H67ZM65 686H70V687H65ZM82 664H83V713H82ZM80 686H85V705H80ZM96 706H97V750H96ZM94 713H99V729H94ZM104 677H105V730H104ZM102 689H107V714H102ZM111 672H112V695H111ZM109 684H114V690H109ZM140 704H141V837H140ZM138 717H143V811H138ZM154 713H155V754H154ZM152 728H157V750H152ZM161 669H162V734H161ZM159 678H164V729H159ZM176 671H177V698H176ZM174 690H179V694H174ZM212 701H213V714H212ZM210 704H215V714H210ZM227 685H228V714H227ZM225 705H230V709H225ZM234 645H235V713H234ZM232 659H237V706H232ZM241 627H242V666H241ZM239 657H244V660H239ZM263 646H264V671H263ZM261 667H266V671H261ZM270 629H271V679H270ZM268 645H273V668H268ZM277 604H278V657H277ZM275 629H280V645H275ZM299 643H300V668H299ZM297 658H302V668H297ZM335 678H336V708H335ZM333 680H338V690H333ZM349 617H350V693H349ZM347 617H352V690H347ZM357 580H358V633H357ZM355 611H360V618H355ZM364 563H365V614H364ZM362 565H367V612H362ZM378 499H379V609H378ZM376 539H381V604H376ZM386 517H387V583H386ZM384 525H389V540H384ZM422 573H423V616H422ZM420 581H425V609H420ZM444 581H445V616H444ZM442 593H447V608H442ZM451 571H452V595H451ZM449 580H454V594H449ZM465 606H466V632H465ZM463 616H468V630H463ZM472 611H473V640H472ZM470 612H475V617H470ZM487 608H488V639H487ZM485 621H490V624H485ZM516 661H517V707H516ZM514 673H519V686H514ZM523 668H524V691H523ZM521 671H526V674H521ZM530 662H531V687H530ZM528 665H533V671H528ZM538 634H539V669H538ZM536 647H541V666H536ZM559 667H560V707H559ZM557 678H562V703H557ZM566 667H567V683H566ZM564 672H569V678H564ZM574 628H575V676H574ZM572 639H577V673H572ZM581 617H582V655H581ZM579 620H584V640H579ZM624 672H625V686H624ZM622 676H627V686H622ZM632 614H633V681H632ZM630 650H635V677H630ZM646 671H647V693H646ZM644 674H649V679H644ZM682 674H683V750H682ZM680 679H685V731H680ZM689 658H690V688H689ZM687 667H692V680H687ZM711 680H712V712H711ZM709 685H714V699H709ZM718 661H719V688H718ZM716 669H721V686H716ZM726 656H727V673H726ZM724 661H729V670H724ZM733 617H734V676H733ZM731 650H736V662H731ZM747 630H748V679H747ZM745 651H750V675H745ZM754 622H755V655H754ZM752 643H757V652H752ZM776 631H777V659H776ZM774 638H779V658H774ZM791 619H792V645H791ZM789 623H794V638H789ZM798 581H799V628H798ZM796 590H801V624H796ZM805 530H806V593H805ZM803 538H808V591H803ZM812 382H813V549H812ZM810 470H815V539H810ZM820 429H821V496H820ZM818 468H823V470H818ZM827 411H828V474H827ZM825 433H830V469H825ZM834 361H835V438H834ZM832 388H837V434H832ZM848 337H849V418H848ZM846 360H851V403H846ZM856 174H857V377H856ZM854 199H859V361H854ZM870 197H871V245H870ZM868 219H873V224H868ZM877 171H878V233H877ZM875 209H880V220H875ZM885 138H886V224H885ZM883 174H888V210H883ZM892 163H893V220H892ZM890 174H895V175H890ZM921 294H922V334H921ZM919 313H924V323H919ZM928 282H929V317H928ZM926 287H931V314H926ZM943 306H944V353H943ZM941 328H946V329H941ZM979 388H980V472H979ZM977 392H982V458H977ZM986 341H987V398H986ZM984 347H989V392H984ZM1000 367H1001V408H1000ZM998 377H1003V388H998ZM1008 252H1009V386H1008ZM1006 257H1011V378H1006ZM1044 262H1045V336H1044ZM1042 276H1047V326H1042ZM1051 252H1052V300H1051ZM1049 274H1054V276H1049ZM1073 317H1074V346H1073ZM1071 335H1076V345H1071ZM1102 377H1103V438H1102ZM1100 391H1105V424H1100ZM1116 335H1117V452H1116ZM1114 346H1119V428H1114ZM1145 344H1146V428H1145ZM1143 369H1148V426H1143ZM1196 423H1197V465H1196ZM1194 423H1199V462H1194ZM1217 415H1218V454H1217ZM1215 441H1220V448H1215ZM1232 399H1233V443H1232ZM1230 418H1235V443H1230ZM1239 375H1240V423H1239ZM1237 384H1242V418H1237ZM1253 365H1254V396H1253ZM1251 379H1256V392H1251ZM1261 356H1262V391H1261ZM1259 359H1264V380H1259ZM1268 323H1269V366H1268ZM1266 335H1271V360H1266ZM1275 305H1276V340H1275ZM1273 330H1278V336H1273ZM1297 352H1298V386H1297ZM1295 360H1300V375H1295ZM1304 334H1305V380H1304ZM1302 343H1307V361H1302ZM1355 375H1356V450H1355ZM1353 400H1358V438H1353ZM1369 443H1370V483H1369ZM1367 452H1372V467H1367ZM1376 435H1377V460H1376ZM1374 444H1379V453H1374ZM1384 421H1385V458H1384ZM1382 421H1387V445H1382ZM1391 399H1392V429H1391ZM1389 417H1394V422H1389ZM1405 387H1406V441H1405ZM1403 392H1408V430H1403ZM1413 337H1414V395H1413ZM1411 359H1416V393H1411ZM1420 339H1421V372H1420ZM1418 359H1423V360H1418ZM1434 347H1435V393H1434ZM1432 384H1437V385H1432ZM1442 355H1443V390H1442ZM1440 378H1445V385H1440ZM1456 401H1457V435H1456ZM1454 417H1459V428H1454ZM1478 553H1479V627H1478ZM1476 598H1481V603H1476ZM1485 524H1486V623H1485ZM1483 545H1488V599H1483ZM1492 502H1493V550H1492ZM1490 517H1495V545H1490Z" fill="#089981"/>
<path d="M10 585H11V606H10ZM8 598H13V602H8ZM31 563H32V588H31ZM29 572H34V574H29ZM39 562H40V616H39ZM37 573H42V610H37ZM46 595H47V627H46ZM44 609H49V612H44ZM53 612H54V680H53ZM51 612H56V661H51ZM60 654H61V713H60ZM58 661H63V688H58ZM75 686H76V728H75ZM73 686H78V705H73ZM89 652H90V742H89ZM87 686H92V729H87ZM118 678H119V786H118ZM116 684H121V766H116ZM125 732H126V876H125ZM123 765H128V774H123ZM133 745H134V817H133ZM131 773H136V811H131ZM147 715H148V764H147ZM145 717H150V750H145ZM169 645H170V707H169ZM167 678H172V694H167ZM183 669H184V707H183ZM181 690H186V707H181ZM190 689H191V722H190ZM188 706H193V707H188ZM198 695H199V717H198ZM196 706H201V713H196ZM205 704H206V720H205ZM203 712H208V714H203ZM219 702H220V722H219ZM217 704H222V709H217ZM248 651H249V694H248ZM246 657H251V663H246ZM255 657H256V677H255ZM253 662H258V671H253ZM284 622H285V656H284ZM282 629H287V650H282ZM292 642H293V691H292ZM290 650H295V668H290ZM306 649H307V665H306ZM304 659H309V660H304ZM313 656H314V672H313ZM311 660H316V669H311ZM321 657H322V680H321ZM319 668H324V680H319ZM328 664H329V696H328ZM326 680H331V690H326ZM342 674H343V698H342ZM340 680H345V690H340ZM371 560H372V616H371ZM369 565H374V604H369ZM393 500H394V548H393ZM391 525H396V537H391ZM400 529H401V608H400ZM398 536H403V597H398ZM407 577H408V610H407ZM405 596H410V599H405ZM415 595H416V628H415ZM413 598H418V609H413ZM429 576H430V634H429ZM427 581H432V599H427ZM436 588H437V622H436ZM434 598H439V608H434ZM458 562H459V633H458ZM456 580H461V629H456ZM480 606H481V629H480ZM478 612H483V624H478ZM494 619H495V654H494ZM492 621H497V638H492ZM501 623H502V650H501ZM499 637H504V649H499ZM509 645H510V689H509ZM507 648H512V686H507ZM545 640H546V665H545ZM543 647H548V664H543ZM552 654H553V715H552ZM550 663H555V703H550ZM588 617H589V642H588ZM586 620H591V626H586ZM595 614H596V645H595ZM593 625H598V639H593ZM603 637H604V674H603ZM601 638H606V668H601ZM610 667H611V706H610ZM608 667H613V684H608ZM617 671H618V696H617ZM615 683H620V686H615ZM639 643H640V685H639ZM637 650H642V679H637ZM653 669H654V684H653ZM651 674H656V677H651ZM660 671H661V705H660ZM658 676H663V694H658ZM668 684H669V736H668ZM666 693H671V714H666ZM675 704H676V769H675ZM673 713H678V731H673ZM697 653H698V675H697ZM695 667H700V670H695ZM704 659H705V701H704ZM702 669H707V699H702ZM740 644H741V683H740ZM738 650H743V675H738ZM762 639H763V665H762ZM760 643H765V657H760ZM769 651H770V663H769ZM767 656H772V657H767ZM783 609H784V643H783ZM781 638H786V639H781ZM841 388H842V445H841ZM839 388H844V404H839ZM863 134H864V248H863ZM861 199H866V224H861ZM899 173H900V366H899ZM897 174H902V308H897ZM906 277H907V389H906ZM904 307H909V322H904ZM914 315H915V374H914ZM912 321H917V323H912ZM935 253H936V334H935ZM933 287H938V330H933ZM950 315H951V373H950ZM948 327H953V339H948ZM957 309H958V369H957ZM955 338H960V366H955ZM964 352H965V413H964ZM962 365H967V388H962ZM971 366H972V468H971ZM969 387H974V458H969ZM993 334H994V404H993ZM991 347H996V388H991ZM1015 235H1016V298H1015ZM1013 257H1018V271H1013ZM1022 247H1023V298H1022ZM1020 270H1025V292H1020ZM1029 272H1030V318H1029ZM1027 291H1032V306H1027ZM1037 252H1038V331H1037ZM1035 306H1040V326H1035ZM1058 246H1059V376H1058ZM1056 274H1061V345H1056ZM1065 322H1066V372H1065ZM1063 345H1068V346H1063ZM1080 320H1081V344H1080ZM1078 335H1083V342H1078ZM1087 338H1088V395H1087ZM1085 342H1090V352H1085ZM1094 344H1095V427H1094ZM1092 351H1097V424H1092ZM1109 388H1110V430H1109ZM1107 391H1112V428H1107ZM1123 346H1124V384H1123ZM1121 346H1126V356H1121ZM1131 327H1132V378H1131ZM1129 356H1134V365H1129ZM1138 354H1139V438H1138ZM1136 364H1141V426H1136ZM1152 357H1153V387H1152ZM1150 369H1155V386H1150ZM1159 364H1160V394H1159ZM1157 385H1162V386H1157ZM1167 382H1168V456H1167ZM1165 385H1170V440H1165ZM1174 433H1175V460H1174ZM1172 439H1177V440H1172ZM1181 421H1182V457H1181ZM1179 439H1184V456H1179ZM1188 432H1189V483H1188ZM1186 455H1191V462H1186ZM1203 414H1204V442H1203ZM1201 423H1206V431H1201ZM1210 423H1211V452H1210ZM1208 430H1213V448H1208ZM1225 435H1226V448H1225ZM1223 441H1228V442H1223ZM1246 360H1247V397H1246ZM1244 384H1249V392H1244ZM1282 327H1283V369H1282ZM1280 330H1285V364H1280ZM1290 349H1291V390H1290ZM1288 363H1293V375H1288ZM1311 323H1312V353H1311ZM1309 343H1314V348H1309ZM1319 339H1320V381H1319ZM1317 347H1322V378H1317ZM1326 370H1327V386H1326ZM1324 377H1329V383H1324ZM1333 368H1334V391H1333ZM1331 382H1336V385H1331ZM1340 383H1341V483H1340ZM1338 384H1343V428H1338ZM1348 411H1349V446H1348ZM1346 427H1351V438H1346ZM1362 393H1363V473H1362ZM1360 400H1365V467H1360ZM1398 407H1399V441H1398ZM1396 417H1401V430H1396ZM1427 354H1428V395H1427ZM1425 359H1430V386H1425ZM1449 373H1450V428H1449ZM1447 378H1452V428H1447ZM1463 417H1464V456H1463ZM1461 417H1466V446H1461ZM1470 432H1471V1007H1470ZM1468 445H1473V603H1468ZM1499 511H1500V595H1499ZM1497 517H1502V554H1497ZM1507 538H1508V600H1507ZM1505 554H1510V588H1505ZM1514 567H1515V633H1514ZM1512 587H1517V617H1512ZM1521 591H1522V663H1521ZM1519 618H1524V645H1519Z" fill="#F23645"/>
</g>
<path d="M10 645.5H1881" stroke="#F23645" stroke-width="1" stroke-dasharray="1 2"/>
<g font-size="12.4">
<text x="17.9" y="45.5" fill="#131722" textLength="160.2" lengthAdjust="spacingAndGlyphs">XRP / TetherUS · 1D · Binance</text>
<text x="186.2" y="45.5" fill="#131722" textLength="7.8" lengthAdjust="spacingAndGlyphs">O</text>
<text x="194.2" y="45.5" fill="#F23645" textLength="35.8" lengthAdjust="spacingAndGlyphs">2.3280</text>
<text x="237.4" y="45.5" fill="#131722" textLength="7.4" lengthAdjust="spacingAndGlyphs">H</text>
<text x="245.8" y="45.5" fill="#F23645" textLength="34.8" lengthAdjust="spacingAndGlyphs">2.4000</text>
<text x="289.0" y="45.5" fill="#131722" textLength="5.6" lengthAdjust="spacingAndGlyphs">L</text>
<text x="294.9" y="45.5" fill="#F23645" textLength="34.9" lengthAdjust="spacingAndGlyphs">2.2023</text>
<text x="337.5" y="45.5" fill="#131722" textLength="7.2" lengthAdjust="spacingAndGlyphs">C</text>
<text x="345.6" y="45.5" fill="#F23645" textLength="34.8" lengthAdjust="spacingAndGlyphs">2.2517</text>
<text x="388.1" y="45.5" fill="#F23645" textLength="90.6" lengthAdjust="spacingAndGlyphs">−0.0763 (−3.28%)</text>
</g>
<g font-size="12" fill="#131722">
<text x="1947.4" y="50.8" textLength="35" lengthAdjust="spacingAndGlyphs">3.9000</text>
<text x="1947.4" y="86.8" textLength="35" lengthAdjust="spacingAndGlyphs">3.8000</text>
<text x="1947.4" y="122.8" textLength="35" lengthAdjust="spacingAndGlyphs">3.7000</text>
<text x="1947.4" y="159.8" textLength="35" lengthAdjust="spacingAndGlyphs">3.6000</text>
<text x="1947.4" y="195.8" textLength="35" lengthAdjust="spacingAndGlyphs">3.5000</text>
<text x="1947.4" y="231.8" textLength="35" lengthAdjust="spacingAndGlyphs">3.4000</text>
<text x="1947.4" y="267.8" textLength="35" lengthAdjust="spacingAndGlyphs">3.3000</text>
<text x="1947.4" y="304.8" textLength="35" lengthAdjust="spacingAndGlyphs">3.2000</text>
<text x="1947.4" y="340.8" textLength="35" lengthAdjust="spacingAndGlyphs">3.1000</text>
<text x="1947.4" y="376.8" textLength="35" lengthAdjust="spacingAndGlyphs">3.0000</text>
<text x="1947.4" y="413.8" textLength="35" lengthAdjust="spacingAndGlyphs">2.9000</text>
<text x="1947.4" y="449.8" textLength="35" lengthAdjust="spacingAndGlyphs">2.8000</text>
<text x="1947.4" y="485.8" textLength="35" lengthAdjust="spacingAndGlyphs">2.7000</text>
<text x="1947.4" y="521.8" textLength="35" lengthAdjust="spacingAndGlyphs">2.6000</text>
<text x="1947.4" y="558.8" textLength="35" lengthAdjust="spacingAndGlyphs">2.5000</text>
<text x="1947.4" y="594.8" textLength="35" lengthAdjust="spacingAndGlyphs">2.4000</text>
<text x="1947.4" y="630.8" textLength="35" lengthAdjust="spacingAndGlyphs">2.3000</text>
<text x="1947.4" y="703.8" textLength="35" lengthAdjust="spacingAndGlyphs">2.1000</text>
<text x="1947.4" y="739.8" textLength="35" lengthAdjust="spacingAndGlyphs">2.0000</text>
<text x="1947.4" y="775.8" textLength="35" lengthAdjust="spacingAndGlyphs">1.9000</text>
<text x="1947.4" y="812.8" textLength="35" lengthAdjust="spacingAndGlyphs">1.8000</text>
<text x="1947.4" y="848.8" textLength="35" lengthAdjust="spacingAndGlyphs">1.7000</text>
<text x="1947.4" y="884.8" textLength="35" lengthAdjust="spacingAndGlyphs">1.6000</text>
<text x="1947.4" y="921.8" textLength="35" lengthAdjust="spacingAndGlyphs">1.5000</text>
<text x="1947.4" y="957.8" textLength="35" lengthAdjust="spacingAndGlyphs">1.4000</text>
<text x="1947.4" y="993.8" textLength="35" lengthAdjust="spacingAndGlyphs">1.3000</text>
<text x="1947.4" y="1029.8" textLength="35" lengthAdjust="spacingAndGlyphs">1.2000</text>
<text x="1947.4" y="1066.8" textLength="35" lengthAdjust="spacingAndGlyphs">1.1000</text>
<text x="1947" y="1116.6" textLength="29" lengthAdjust="spacingAndGlyphs">80.00</text>
</g>
<rect x="1939" y="424.0" width="49" height="16.7" rx="2" fill="#5B9CF6"/>
<text x="1947.4" y="436.7" font-size="12" fill="#131722" textLength="35.0" lengthAdjust="spacingAndGlyphs">2.8378</text>
<rect x="1939" y="442.1" width="49" height="16.8" rx="2" fill="#FF9800"/>
<text x="1947.4" y="454.8" font-size="12" fill="#131722" textLength="35.0" lengthAdjust="spacingAndGlyphs">2.7894</text>
<rect x="1939" y="479.0" width="49" height="16.8" rx="2" fill="#008000"/>
<text x="1947.4" y="491.7" font-size="12" fill="#ffffff" textLength="35.0" lengthAdjust="spacingAndGlyphs">2.6878</text>
<rect x="1939" y="501.9" width="49" height="16.8" rx="2" fill="#000000"/>
<text x="1947.4" y="514.6" font-size="12" fill="#ffffff" textLength="35.0" lengthAdjust="spacingAndGlyphs">2.6240</text>
<rect x="1881.1" y="637.2" width="56.8" height="16.8" rx="2" fill="#F23645"/>
<text x="1885.6" y="650" font-size="12" fill="#ffffff" textLength="48" lengthAdjust="spacingAndGlyphs">XRPUSDT</text>
<rect x="1939" y="637.2" width="59.8" height="30.6" rx="2" fill="#F23645"/>
<text x="1947.4" y="649.8" font-size="12" fill="#ffffff" textLength="35" lengthAdjust="spacingAndGlyphs">2.2517</text>
<text x="1947.8" y="663.6" font-size="12" fill="#ffffff" fill-opacity="0.9" textLength="45" lengthAdjust="spacingAndGlyphs">14:19:46</text>
<rect x="1939" y="1044.2" width="59.9" height="16.5" rx="2" fill="#EF5350"/>
<text x="1947.4" y="1056.8" font-size="12" fill="#ffffff" textLength="46" lengthAdjust="spacingAndGlyphs">129.18M</text>
<rect x="1939" y="1144.0" width="43" height="16.5" rx="2" fill="#FFEB3B"/>
<text x="1947.4" y="1156.5" font-size="12" fill="#131722" textLength="29.0" lengthAdjust="spacingAndGlyphs">39.56</text>
<rect x="1939" y="1161.0" width="43" height="16.9" rx="2" fill="#7E57C2"/>
<text x="1947.4" y="1173.8" font-size="12" fill="#ffffff" textLength="29.0" lengthAdjust="spacingAndGlyphs">29.69</text>
<g font-size="12.4" fill="#131722" stroke="#131722" stroke-width="0.45" text-anchor="middle">
<text x="82.5" y="1199.3">Apr</text>
<text x="299.5" y="1199.3">May</text>
<text x="523.5" y="1199.3">Jun</text>
<text x="740.5" y="1199.3">Jul</text>
<text x="964.5" y="1199.3">Aug</text>
<text x="1188.5" y="1199.3">Sep</text>
<text x="1405.5" y="1199.3">Oct</text>
<text x="1630.5" y="1199.3">Nov</text>
<text x="1847.5" y="1199.3">Dec</text>
</g>
<g fill="#131722">
<path d="M11.9 1230.9H23.8V1245.8H17.9V1236.8H11.9Z"/>
<circle cx="29.3" cy="1233.9" r="2.9"/>
<path d="M35.3 1230.9H41.7L35.7 1245.8H29.3Z"/>
<text x="49.2" y="1245.8" font-size="20.4" font-weight="bold" textLength="120.6" lengthAdjust="spacingAndGlyphs">TradingView</text>
</g>
</svg></body></html>
